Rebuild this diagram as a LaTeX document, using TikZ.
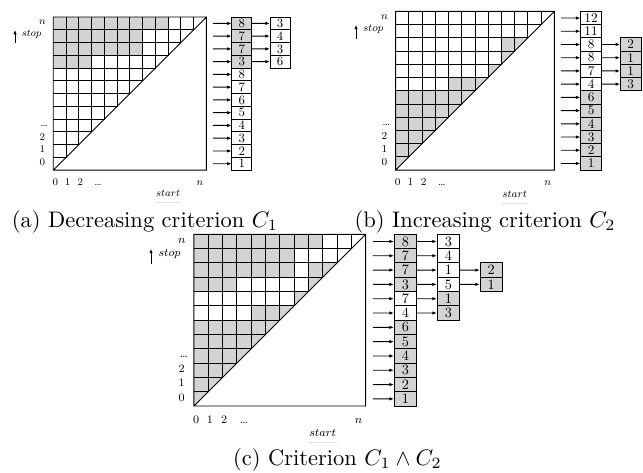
\documentclass[tikz,border=0pt]{standalone}
\usepackage{tikz}
\usetikzlibrary{arrows.meta}
\definecolor{cellgray}{HTML}{D3D3D3}

\begin{document}
\begin{tikzpicture}[x=10pt,y=10pt,
  >={Latex[length=2pt,width=1.5pt]},
  panela/.style={shift={(2.369,13.42)},scale=0.567,transform shape},
  panelb/.style={shift={(17.586,13.42)},scale=0.5876,transform shape},
  panelc/.style={shift={(8.62,2.933)},scale=0.636,transform shape},
  listbox/.style={draw,minimum width=15.6pt,minimum height=10pt,inner sep=0pt,font=\normalsize},
  axlab/.style={font=\footnotesize,inner sep=0pt,anchor=base},
  dirlab/.style={font=\footnotesize,inner sep=0pt}]
  \useasboundingbox (0,0) rectangle (28.58,20.98);
  % (a) decreasing
  \begin{scope}[panela]
    \fill[cellgray] (0,11) rectangle (9,12) (0,9) rectangle (7,11) (0,8) rectangle (3,9);
    \foreach \v/\c [count=\j from 0] in {1/white,2/white,3/white,4/white,5/white,6/white,
        7/white,8/white,3/cellgray,7/cellgray,7/cellgray,8/cellgray}{
      \coordinate (a-in-\j) at (12.5,\j+0.5);
      \node[listbox,fill=\c] (a-1-\j) at (14.78,\j+0.5) {\v};
      \draw[->] (a-in-\j) -- (a-1-\j);
    }
    \foreach \v/\j in {6/8,3/9,4/10,3/11}{
      \node[listbox] (a-2-\j) at (17.78,\j+0.5) {\v};
      \draw[->] (a-1-\j) -- (a-2-\j);
    }
  \end{scope}
  % (b) increasing
  \begin{scope}[panelb]
    \fill[cellgray] (0,0) -- (6,6) -- (0,6) -- cycle
      (4,6) -- (6,6) -- (7,7) -- (4,7) -- cycle
      (7,7) -- (8,8) -- (7,8) -- cycle
      (8,8) -- (9,9) -- (8,9) -- cycle
      (8,9) -- (9,9) -- (10,10) -- (8,10) -- cycle;
    \foreach \v/\c [count=\j from 0] in {1/cellgray,2/cellgray,3/cellgray,4/cellgray,5/cellgray,
        6/cellgray,4/white,7/white,8/white,8/white,11/white,12/white}{
      \coordinate (b-in-\j) at (12.5,\j+0.5);
      \node[listbox,fill=\c] (b-1-\j) at (14.78,\j+0.5) {\v};
      \draw[->] (b-in-\j) -- (b-1-\j);
    }
    \foreach \v/\j in {3/6,1/7,1/8,2/9}{
      \node[listbox,fill=cellgray] (b-2-\j) at (17.78,\j+0.5) {\v};
      \draw[->] (b-1-\j) -- (b-2-\j);
    }
  \end{scope}
  % (c) both
  \begin{scope}[panelc]
    \fill[cellgray] (0,11) rectangle (9,12) (0,9) rectangle (7,11) (0,8) rectangle (3,9);
    \fill[cellgray] (0,0) -- (6,6) -- (0,6) -- cycle
      (4,6) -- (6,6) -- (7,7) -- (4,7) -- cycle
      (7,7) -- (8,8) -- (7,8) -- cycle
      (8,8) -- (9,9) -- (8,9) -- cycle
      (8,9) -- (9,9) -- (10,10) -- (8,10) -- cycle;
    \foreach \v/\c [count=\j from 0] in {1/cellgray,2/cellgray,3/cellgray,4/cellgray,5/cellgray,
        6/cellgray,4/white,7/white,3/cellgray,7/cellgray,7/cellgray,8/cellgray}{
      \coordinate (c-in-\j) at (12.5,\j+0.5);
      \node[listbox,fill=\c] (c-1-\j) at (14.78,\j+0.5) {\v};
      \draw[->] (c-in-\j) -- (c-1-\j);
    }
    \foreach \v/\c/\j in {3/cellgray/6,1/cellgray/7,5/white/8,1/white/9,4/white/10,3/white/11}{
      \node[listbox,fill=\c] (c-2-\j) at (17.78,\j+0.5) {\v};
      \draw[->] (c-1-\j) -- (c-2-\j);
    }
    \foreach \v/\j in {1/8,2/9}{
      \node[listbox,fill=cellgray] (c-3-\j) at (20.78,\j+0.5) {\v};
      \draw[->] (c-2-\j) -- (c-3-\j);
    }
  \end{scope}
  % grids and axes
  \foreach \pan in {panela,panelb,panelc}{
    \begin{scope}[\pan]
      \draw (0,0) rectangle (12,12) (0,0) -- (12,12);
      \foreach \i in {1,...,11}
        \draw (0,\i) -- (\i,\i) -- (\i,12);
      \foreach \t/\px/\py [count=\k] in {0/-0.85/0.35,1/-0.85/1.35,2/-0.85/2.35,\dots/-0.7/3.38,$n$/-0.85/11.38,
          0/0.15/-1.2,1/1.12/-1.2,2/2.12/-1.2,\dots/3.5/-1.2,$n$/11.5/-1.2}
        \node[axlab] (\pan-l\k) at (\px,\py) {\t};
      \coordinate (\pan-s0) at (-3,9.95);
      \coordinate (\pan-s1) at (-3,11);
      \draw[->] (\pan-s0) -- (\pan-s1);
      \node[dirlab] (\pan-stop) at (-1.7,10.62) {$stop$};
      \node[dirlab] (\pan-start) at (9,-1.85) {$start$};
      \draw[black!12,line width=0.5pt] (8,-2.55) -- (10,-2.55);
    \end{scope}
  }
  % captions
  \node[anchor=base] (capa) at (6.444,10.89) {(a) Decreasing criterion $C_1$};
  \node[anchor=base] (capb) at (21.56,10.89) {(b) Increasing criterion $C_2$};
  \node[anchor=base] (capc) at (15.0,0.311) {(c) Criterion $C_1\wedge C_2$};
\end{tikzpicture}
\end{document}
